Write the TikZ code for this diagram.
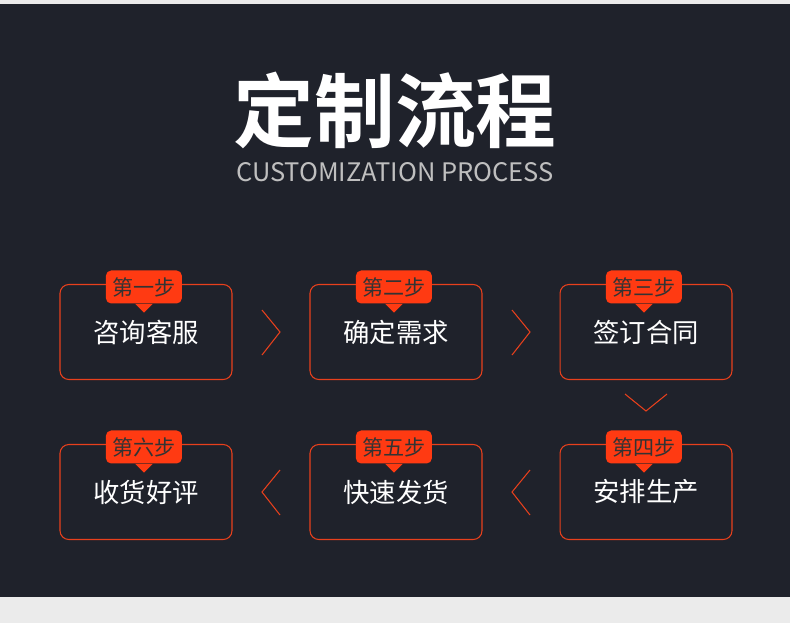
\documentclass[tikz,border=0pt]{standalone}
\usepackage{fontspec}
\setmainfont{Noto Sans CJK SC}
\newfontfamily\cjkbold{Noto Sans CJK SC Bold}
\usetikzlibrary{positioning}
\definecolor{bgdark}{HTML}{1F222B}
\definecolor{bglight}{HTML}{EBEBEB}
\definecolor{tagred}{HTML}{FF3A12}
\definecolor{linered}{HTML}{E8401C}
\tikzset{
  stepbox/.style={draw=linered, line width=0.6pt, rounded corners=5pt, minimum width=3.44cm, minimum height=1.9cm, text=white, font=\fontsize{15}{18}\selectfont, inner sep=0pt},
  steptag/.style={fill=tagred, rounded corners=3pt, minimum width=1.52cm, minimum height=0.66cm, text=black!80, font=\fontsize{12}{14}\selectfont, inner sep=0pt},
  chevron/.style={draw=linered, line width=0.6pt}
}
\begin{document}
\begin{tikzpicture}[x=0.02cm, y=-0.02cm]
    % Fundo
    \fill[bglight] (0,0) rectangle (790,623);
    \fill[bgdark] (0,4) rectangle (790,597);
    \useasboundingbox (0,0) rectangle (790,623);

    % Títulos
    \node[text=white, font=\cjkbold\fontsize{46}{50}\selectfont] (title) at (395,110) {定制流程};
    \node[text=white!75!black, font=\fontsize{14.5}{17}\selectfont] (subtitle) at (395,172) {CUSTOMIZATION PROCESS};

    % Caixas
    \node[stepbox] (s1) at (146,332) {咨询客服};
    \node[stepbox] (s2) at (396,332) {确定需求};
    \node[stepbox] (s3) at (646,332) {签订合同};
    \node[stepbox] (s4) at (646,492) {安排生产};
    \node[stepbox] (s5) at (396,492) {快速发货};
    \node[stepbox] (s6) at (146,492) {收货好评};

    % Etiquetas
    \foreach \b/\t in {s1/第一步, s2/第二步, s3/第三步, s4/第四步, s5/第五步, s6/第六步} {
        \node[steptag] (\b tag) at ([xshift=-3\pgflinewidth, yshift=-0.06cm]\b.north) {\t};
        \fill[tagred] ([xshift=-5pt]\b tag.south) -- ([yshift=-5pt]\b tag.south) -- ([xshift=5pt]\b tag.south) -- cycle;
    }

    % Setas
    \draw[chevron] (262,310) -- (280,332) -- (262,355);
    \draw[chevron] (512,310) -- (530,332) -- (512,355);
    \draw[chevron] (625,394) -- (646,411) -- (667,394);
    \draw[chevron] (530,470) -- (512,492) -- (530,515);
    \draw[chevron] (280,470) -- (262,492) -- (280,515);
\end{tikzpicture}
\end{document}
